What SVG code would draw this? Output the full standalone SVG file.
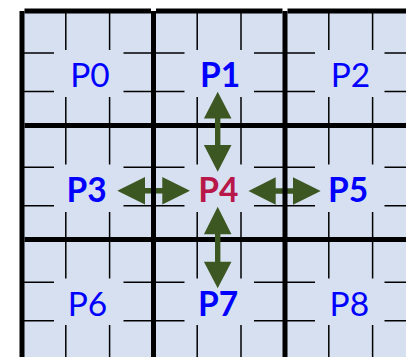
<svg xmlns="http://www.w3.org/2000/svg" width="406" height="357" viewBox="0 0 406 357">
  <style>
    .bg { fill: #D7E0F0; }
    .thin { stroke: #000; stroke-width: 1.5; fill: none; }
    .thick { stroke: #000; stroke-width: 5; fill: none; }
    .cover { fill: #D7E0F0; stroke: none; }
    .lbl { font-family: Lato, "Liberation Sans", sans-serif; font-size: 33.5px; text-anchor: middle; fill: #0000FF; }
    .b { font-weight: bold; }
    .center { fill: #B8174A; }
    .arrow { fill: #3D5723; stroke: none; }
  </style>
  <rect width="406" height="357" fill="#FFFFFF"/>
  <g id="grid">
    <rect class="bg" x="22" y="11" width="384" height="346"/>
    <path class="thin" d="M65.8,13V357 M109.6,13V357 M197.2,13V357 M241,13V357 M328.8,13V357 M372.6,13V357
      M24,53H406 M24,91.5H406 M24,167.3H406 M24,205.7H406 M24,282.3H406 M24,320.7H406"/>
  </g>
  <g id="node-P0"><rect class="cover" x="54" y="50" width="69.5" height="47"/><text class="lbl" x="90" y="86.5">P0</text></g>
  <g id="node-P1"><rect class="cover" x="184.5" y="50" width="69.5" height="47"/><text class="lbl b" x="220" y="86.5">P1</text></g>
  <g id="node-P2"><rect class="cover" x="315" y="50" width="69.5" height="47"/><text class="lbl" x="350.5" y="86.5">P2</text></g>
  <g id="node-P3"><rect class="cover" x="54" y="164.5" width="69.5" height="47.5"/><text class="lbl b" x="86.5" y="201.5">P3</text></g>
  <g id="node-P4"><rect class="cover" x="184.5" y="164.5" width="69.5" height="47.5"/><text class="lbl b center" x="218.3" y="201.5">P4</text></g>
  <g id="node-P5"><rect class="cover" x="315" y="164.5" width="69.5" height="47.5"/><text class="lbl b" x="348.2" y="201.5">P5</text></g>
  <g id="node-P6"><rect class="cover" x="54" y="278.5" width="69.5" height="46.5"/><text class="lbl" x="87.5" y="315.5">P6</text></g>
  <g id="node-P7"><rect class="cover" x="184.5" y="278.5" width="69.5" height="46.5"/><text class="lbl b" x="218" y="315.5">P7</text></g>
  <g id="node-P8"><rect class="cover" x="315" y="278.5" width="69.5" height="46.5"/><text class="lbl" x="349.3" y="315.5">P8</text></g>
  <g id="grid-thick-h">
    <path class="thick" d="M24.5,11H151 M156,11H282.5 M287.5,11H406 M24.5,125.6H406 M24.5,239.5H406"/>
  </g>
  <g id="connectors">
    <path class="arrow" d="M217.7,91.7 L231.5,118.4 L220.4,118.4 L220.4,145 L231.5,145 L217.7,171.7 L203.9,145 L215,145 L215,118.4 L203.9,118.4 Z"/>
    <path class="arrow" d="M217.7,206.7 L231.5,234.3 L220.4,234.3 L220.4,261.7 L231.5,261.7 L217.7,288.3 L203.9,261.7 L215,261.7 L215,234.3 L203.9,234.3 Z"/>
    <path class="arrow" d="M117.3,190.7 L145,176.9 L145,188 L162.3,188 L162.3,176.9 L190,190.7 L162.3,204.5 L162.3,193.4 L145,193.4 L145,204.5 Z"/>
    <path class="arrow" d="M248.5,191 L275.7,177.2 L275.7,188.3 L293,188.3 L293,177.2 L320.7,191 L293,204.8 L293,193.7 L275.7,193.7 L275.7,204.8 Z"/>
  </g>
  <g id="grid-thick-v">
    <path class="thick" d="M22,11V357 M153.5,11V357 M285,11V357"/>
  </g>
</svg>
